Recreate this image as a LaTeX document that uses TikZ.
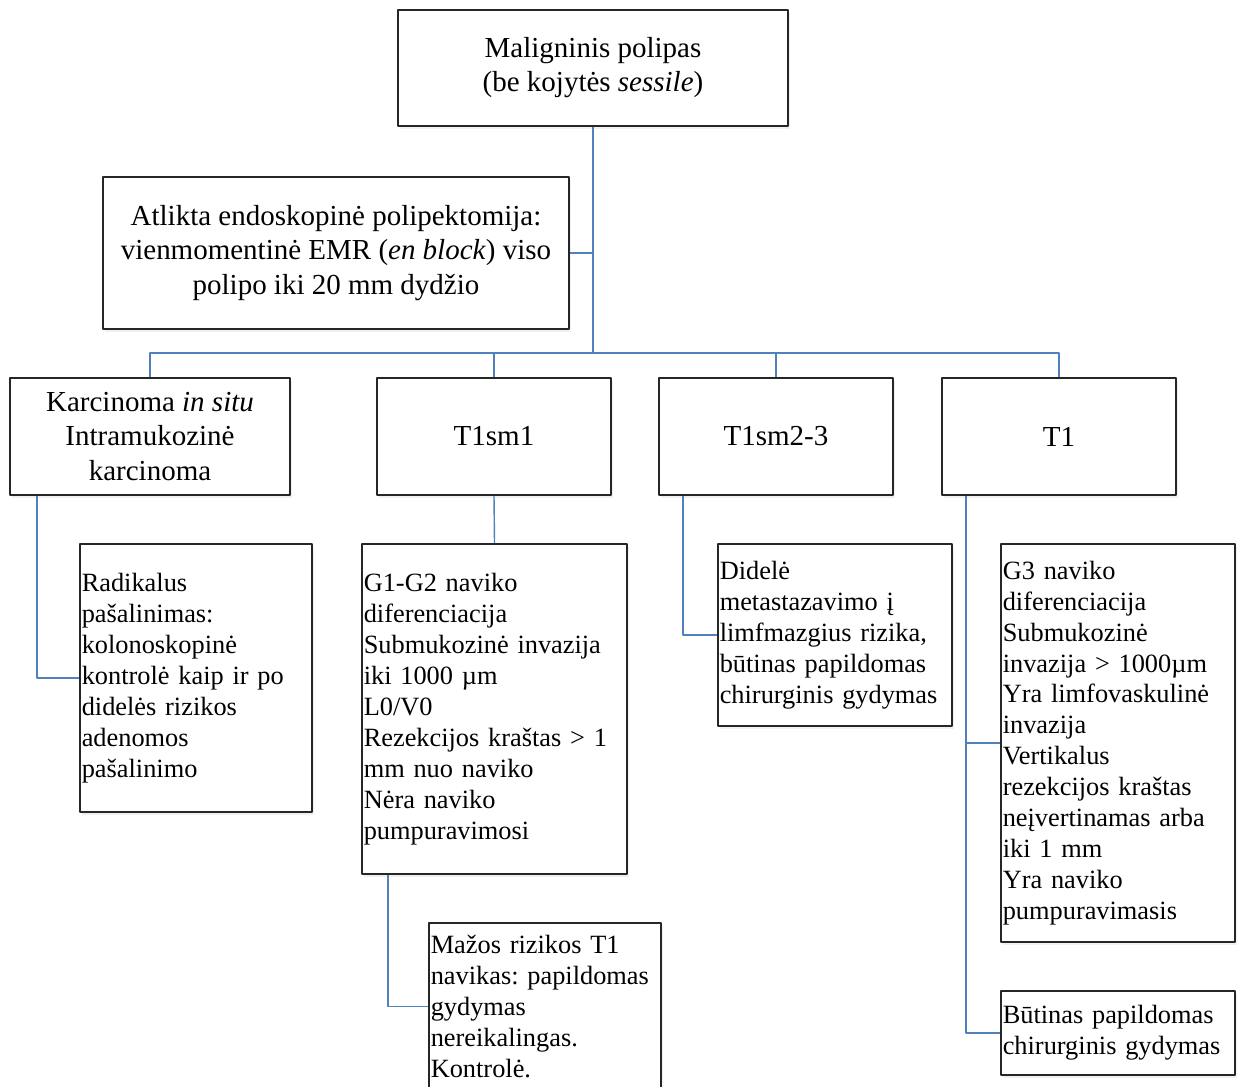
\documentclass[tikz,border=0pt]{standalone}
\usepackage{fontspec}
\setmainfont{Liberation Serif}
\usepackage{tikz}
\usetikzlibrary{shadows}
\definecolor{linkblue}{RGB}{79,129,189}
\frenchspacing

\begin{document}
\begin{tikzpicture}[x=0.02cm,y=-0.02cm,line join=round]
\tikzstyle{bigbox} = [draw=black!85,line width=1pt,fill=white,align=center,font=\fontsize{16.5}{19.4}\selectfont,inner sep=2pt,drop shadow={opacity=0.12,shadow xshift=1pt,shadow yshift=-1.5pt}]
\tikzstyle{smallbox} = [draw=black!85,line width=1pt,fill=white,align=left,font=\fontsize{15}{17.6}\selectfont,inner xsep=1pt,inner ysep=2pt,drop shadow={opacity=0.12,shadow xshift=1pt,shadow yshift=-1.5pt}]
\tikzstyle{link} = [draw=linkblue,line width=0.8pt]
\useasboundingbox (0,0) rectangle (1243,1086);
\node[bigbox,minimum width=7.8cm,minimum height=2.32cm] (top) at (593,68) {Maligninis polipas\\(be kojytės \textit{sessile})};
\node[bigbox,minimum width=9.32cm,minimum height=3.04cm] (endo) at (336,253) {Atlikta endoskopinė polipektomija:\\vienmomentinė EMR (\textit{en block}) viso\\polipo iki 20 mm dydžio};
\node[bigbox,minimum width=5.6cm,minimum height=2.34cm] (karc) at (150,436.5) {Karcinoma \textit{in situ}\\Intramukozinė\\karcinoma};
\node[bigbox,minimum width=4.68cm,minimum height=2.34cm] (t1sm1) at (494,436.5) {T1sm1};
\node[bigbox,minimum width=4.68cm,minimum height=2.34cm] (t1sm23) at (776,436.5) {T1sm2-3};
\node[bigbox,minimum width=4.68cm,minimum height=2.34cm] (t1) at (1059,436.5) {T1};
\node[smallbox,text width=4.57cm,minimum height=5.36cm] (radik) at (196,678) {Radikalus\\pašalinimas:\\kolonoskopinė\\kontrolė kaip ir po\\didelės rizikos\\adenomos\\pašalinimo};
\node[smallbox,text width=5.23cm,minimum height=6.6cm] (g1g2) at (494.5,709) {G1-G2 naviko\\diferenciacija\\Submukozinė invazija\\iki 1000 µm\\L0/V0\\Rezekcijos kraštas > 1\\mm nuo naviko\\Nėra naviko\\pumpuravimosi};
\node[smallbox,text width=4.61cm,minimum height=3.64cm] (didele) at (835,635) {Didelė\\metastazavimo į\\limfmazgius rizika,\\būtinas papildomas\\chirurginis gydymas};
\node[smallbox,text width=4.61cm,minimum height=7.96cm] (g3) at (1118,743) {G3 naviko\\diferenciacija\\Submukozinė\\invazija > 1000µm\\Yra limfovaskulinė\\invazija\\Vertikalus\\rezekcijos kraštas\\neįvertinamas arba\\iki 1 mm\\Yra naviko\\pumpuravimasis};
\node[smallbox,text width=4.57cm,minimum height=3.34cm] (mazos) at (545,1006.5) {Mažos rizikos T1\\navikas: papildomas\\gydymas\\nereikalingas.\\Kontrolė.};
\node[smallbox,text width=4.61cm,minimum height=1.68cm] (butinas) at (1118,1033) {Būtinas papildomas\\chirurginis gydymas};
\coordinate (bus) at (593,353);
% tree connectors
\draw[link] (top.south) -- (bus);
\draw[link] (top.south |- endo.east) -- (endo.east);
\draw[link] (karc.north) |- (bus);
\draw[link] (t1.north) |- (bus);
\draw[link] (t1sm1.north) -- (t1sm1.north |- bus);
\draw[link] (t1sm23.north) -- (t1sm23.north |- bus);
\draw[link] ([xshift=0.56cm]karc.south west) |- (radik.west);
\draw[link] (t1sm1.south) -- (g1g2.north);
\draw[link] ([xshift=0.54cm]g1g2.south west) |- (mazos.west);
\draw[link] ([xshift=0.5cm]t1sm23.south west) |- (didele.west);
\draw[link] ([xshift=0.5cm]t1.south west) |- (g3.west);
\draw[link] ([xshift=0.5cm]t1.south west) |- (butinas.west);
\end{tikzpicture}
\end{document}
